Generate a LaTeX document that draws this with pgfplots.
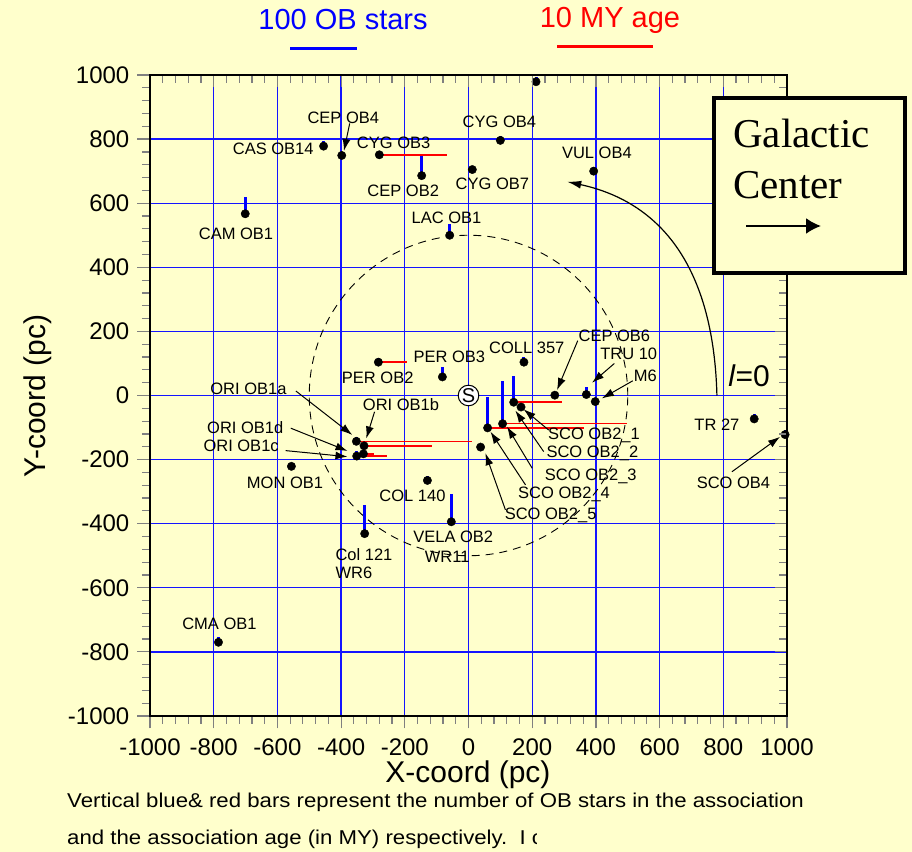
\documentclass[border=0pt]{standalone}
\usepackage{fontspec}
\setmainfont{Liberation Sans}
\newfontfamily\timesf{Liberation Serif}
\usepackage{pgfplots}
\pgfplotsset{compat=1.18}
\usepackage{pgfplotstable}
\usetikzlibrary{arrows.meta}
\definecolor{bgy}{RGB}{255,255,204}
\definecolor{gridblue}{RGB}{20,20,255}
\newcommand{\fs}[1]{\fontsize{#1bp}{#1bp}\selectfont}

\pgfplotstableread{
x y b r
-455 778 17 0
-398 749 0 0
-280 751 10 211
-147 686 60 0
-701 567 52 0
-59 500 35 0
212 979 16 0
100 796 14 0
12 705 12 0
393 700 12 0
-283 104 12 89
-82 58 30 0
-352 -143 15 364
-328 -157 15 212
-330 -182 0 33
-351 -189 15 94
-556 -221 10 0
-129 -265 15 0
-326 -431 88 0
-54 -394 88 0
-785 -770 15 0
174 104 15 0
271 1 0 0
370 3 23 0
398 -19 12 0
142 -21 82 152
165 -36 0 0
107 -88 134 391
60 -101 97 302
38 -161 0 0
897 -73 15 0
994 -122 15 0
}\assoc

\begin{document}
\begin{tikzpicture}[
  lab/.style={font=\fs{16.5}, inner sep=0pt},
  arr/.style={-{Latex[length=12bp,width=8bp]}, line width=1bp, black},
]
\path[use as bounding box, fill=bgy] (0,0) rectangle (912bp,852bp);

\pgfplotsset{myframe/.style={
  at={(150bp,136bp)}, anchor=south west,
  scale only axis, width=637bp, height=641bp,
  xmin=-1000, xmax=1000, ymin=-1000, ymax=1000,
  xtick distance=200, ytick distance=200,
  minor x tick num=4, minor y tick num=4,
  major tick length=12.5bp, minor tick length=8bp,
  tick style={line width=1.2bp},
  axis line style={line width=1.5bp},
}}

\begin{axis}[myframe,
  xtick pos=left, ytick pos=left, tick align=outside,
  xmajorgrids=true, ymajorgrids=true,
  grid style={draw=gridblue, line width=1.3bp},
  major grid style={draw=gridblue, line width=1.3bp},
  ticklabel style={font=\fs{24}, inner sep=1bp},
  xticklabel style={yshift=-9bp},
  yticklabel style={xshift=-7bp},
  /pgf/number format/assume math mode=true,
  /pgf/number format/1000 sep={},
  clip=false,
]
% dashed circle of 500 pc
\draw[black, line width=0.9bp, dash pattern=on 8bp off 6bp] (axis cs:0,0) ellipse [x radius=500, y radius=500];

% blue bars (number of OB stars)
\addplot[draw=none, forget plot, error bars/.cd, y dir=plus, y explicit, error mark=none,
  error bar style={draw=blue, line width=3bp}] table[x=x, y=y, y error=b]{\assoc};
% red bars (age)
\addplot[draw=none, forget plot, error bars/.cd, x dir=plus, x explicit, error mark=none,
  error bar style={draw=red, line width=1.5bp}] table[x=x, y=y, x error=r]{\assoc};
% dots
\addplot[only marks, mark=*, mark size=4.2bp, black] table[x=x, y=y]{\assoc};

% labels
\node[lab] at (axis cs:-393,865) {CEP OB4};
\node[lab] at (axis cs:-613,769) {CAS OB14};
\node[lab] at (axis cs:-235,789) {CYG OB3};
\node[lab] at (axis cs:-205,639) {CEP OB2};
\node[lab] at (axis cs:-730,506) {CAM OB1};
\node[lab] at (axis cs:-69,554) {LAC OB1};
\node[lab] at (axis cs:97,854) {CYG OB4};
\node[lab] at (axis cs:75,659) {CYG OB7};
\node[lab] at (axis cs:403,756) {VUL OB4};
\node[lab] at (axis cs:-285,54) {PER OB2};
\node[lab] at (axis cs:-60,120) {PER OB3};
\node[lab] at (axis cs:-691,20) {ORI OB1a};
\node[lab] at (axis cs:-212,-27) {ORI OB1b};
\node[lab] at (axis cs:-701,-99) {ORI OB1d};
\node[lab] at (axis cs:-714,-158) {ORI OB1c};
\node[lab] at (axis cs:-576,-272) {MON OB1};
\node[lab] at (axis cs:-176,-314) {COL 140};
\node[lab, anchor=west] at (axis cs:-418,-495) {Col 121};
\node[lab, anchor=west] at (axis cs:-418,-552) {WR6};
\node[lab] at (axis cs:-48,-442) {VELA OB2};
\node[lab] at (axis cs:-67,-503) {WR11};
\node[lab] at (axis cs:-782,-713) {CMA OB1};
\node[lab] at (axis cs:183,150) {COLL 357};
\node[lab] at (axis cs:458,186) {CEP OB6};
\node[lab] at (axis cs:503,129) {TRU 10};
\node[lab] at (axis cs:555,62) {M6};
\node[lab] at (axis cs:394,-123) {SCO OB2\_1};
\node[lab] at (axis cs:389,-180) {SCO OB2\_2};
\node[lab] at (axis cs:384,-251) {SCO OB2\_3};
\node[lab] at (axis cs:300,-307) {SCO OB2\_4};
\node[lab] at (axis cs:258,-373) {SCO OB2\_5};
\node[lab] at (axis cs:780,-92) {TR 27};
\node[lab] at (axis cs:832,-274) {SCO OB4};

% arrows
\draw[arr] (axis cs:-373,849) -- (axis cs:-391,763);
\draw[arr] (axis cs:-542,14) -- (axis cs:-365,-123);
\draw[arr] (axis cs:-295,-51) -- (axis cs:-321,-134);
\draw[arr] (axis cs:-558,-102) -- (axis cs:-380,-173);
\draw[arr] (axis cs:-574,-172) -- (axis cs:-380,-191);
\draw[arr] (axis cs:343,171) -- (axis cs:278,17);
\draw[arr] (axis cs:458,100) -- (axis cs:388,40);
\draw[arr] (axis cs:516,46) -- (axis cs:419,-9);
\draw[arr] (axis cs:252,-108) -- (axis cs:173,-43);
\draw[arr] (axis cs:236,-175) -- (axis cs:147,-47);
\draw[arr] (axis cs:200,-227) -- (axis cs:121,-97);
\draw[arr] (axis cs:179,-279) -- (axis cs:69,-113);
\draw[arr] (axis cs:116,-357) -- (axis cs:53,-180);
\draw[arr] (axis cs:827,-238) -- (axis cs:978,-129);

% rotation arrow
\draw[line width=1.2bp, -{Latex[length=14bp,width=8bp]}] (axis cs:780,0) .. controls (axis cs:770,380) and (axis cs:620,600) .. (axis cs:310,667);

% sun
\node[circle, draw, fill=white, minimum size=20.6bp, inner sep=0pt, line width=1bp, font=\fs{20}] at (axis cs:0,0) {S};
% l=0
\node[inner sep=0pt, font=\fs{30}] at (axis cs:881,61) {\textit{l}=0};
\end{axis}

\begin{axis}[myframe,
  xtick pos=right, ytick pos=right, tick align=inside,
  xticklabels={}, yticklabels={},
  grid=none, xmajorgrids=false, ymajorgrids=false,
  major grid style={draw=none}, minor grid style={draw=none},
]
\end{axis}

\begin{scope}[x=1bp, y=-1bp, yshift=852bp]
  % legend-like header
  \node[blue, font=\fs{29}, inner sep=0pt] at (343,20) {100 OB stars};
  \draw[blue, line width=3bp] (290,49) -- (357,49);
  \node[red, font=\fs{29}, inner sep=0pt] at (610,20) {10 MY age};
  \draw[red, line width=3bp] (557,47) -- (653,47);
  % axis labels
  \node[font=\fs{30}, inner sep=0pt] at (468,775) {X-coord (pc)};
  \node[font=\fs{30}, inner sep=0pt, rotate=90] at (38,396) {Y-coord (pc)};
  % caption
  \node[font=\fs{20}, inner sep=0pt, anchor=base west, xscale=1.11] at (67,808) {Vertical blue\& red bars represent the number of OB stars in the association};
  \begin{scope}
    \clip (0,820) rectangle (536,852);
    \node[font=\fs{20}, inner sep=0pt, anchor=base west, xscale=1.11] at (67,845) {and the association age (in MY) respectively.\ \ I c};
  \end{scope}
  % Galactic Center box
  \draw[line width=4bp, fill=bgy] (714,98) rectangle (905,273);
  \node[font=\timesf\fs{41}, inner sep=0pt, anchor=base west] at (733,148) {Galactic};
  \node[font=\timesf\fs{41}, inner sep=0pt, anchor=base west] at (733,199) {Center};
  \draw[line width=2bp, -{Latex[length=15bp,width=16bp]}] (746,226) -- (821,226);
\end{scope}
\end{tikzpicture}
\end{document}
